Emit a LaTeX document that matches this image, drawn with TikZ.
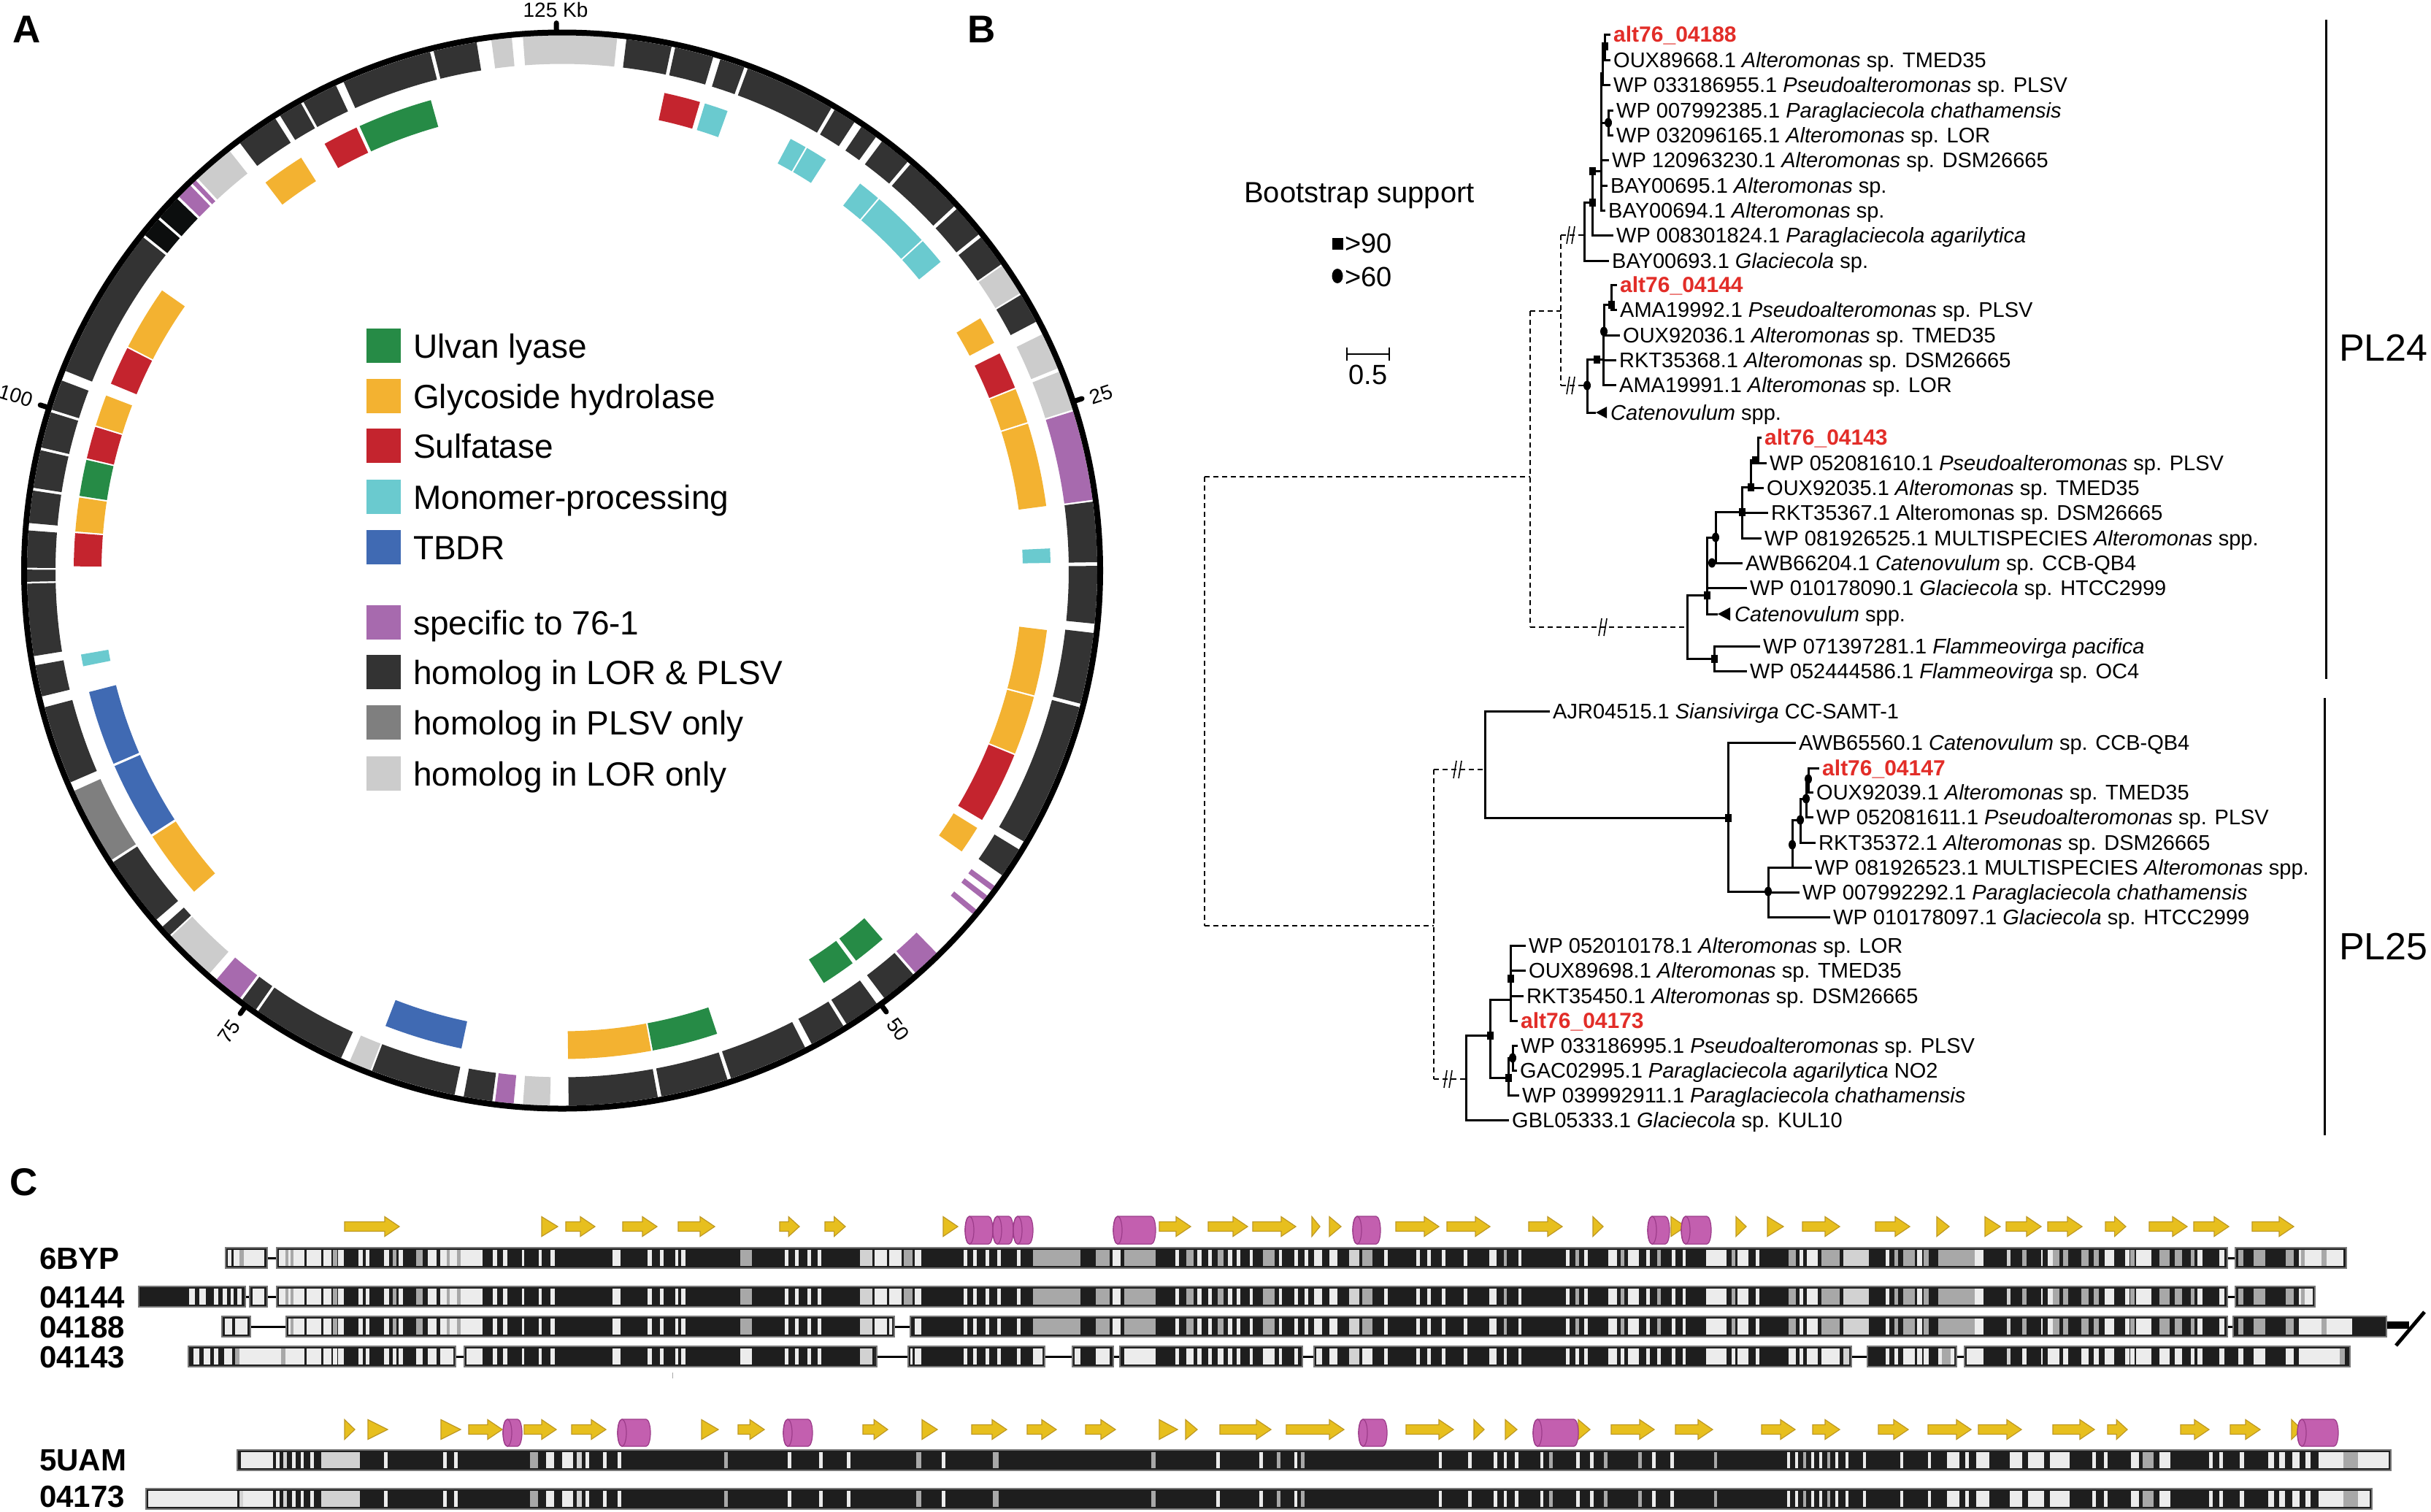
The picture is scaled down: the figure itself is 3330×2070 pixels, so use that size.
\documentclass[tikz,border=0pt]{standalone}
\usepackage{fontspec}
\setmainfont{Liberation Sans}
\definecolor{cgreen}{RGB}{38,139,70}
\definecolor{corange}{RGB}{243,178,49}
\definecolor{cred}{RGB}{196,36,46}
\definecolor{ccyan}{RGB}{106,202,207}
\definecolor{cblue}{RGB}{64,106,179}
\definecolor{cpurple}{RGB}{167,106,174}
\definecolor{cdark}{RGB}{51,51,51}
\definecolor{cmid}{RGB}{127,127,127}
\definecolor{clight}{RGB}{204,204,204}
\definecolor{cblack}{RGB}{12,14,14}
\definecolor{tred}{RGB}{226,45,40}
\definecolor{ayel}{RGB}{231,191,30}
\definecolor{ayeld}{RGB}{190,152,35}
\definecolor{cmag}{RGB}{195,95,175}
\definecolor{cmagd}{RGB}{156,60,138}
\definecolor{barc}{RGB}{30,30,30}
\definecolor{barl}{RGB}{120,120,120}
\definecolor{stw}{RGB}{236,236,236}
\definecolor{stl}{RGB}{210,210,210}
\definecolor{stg}{RGB}{168,168,168}
\colorlet{sgx}{stg}
\newcommand\fs[1]{\fontsize{#1}{#1}\selectfont}
\newcommand\aseg[5]{\fill[#1] ({#2-90}:#4) arc[start angle={#2-90}, end angle={#3-90}, radius=#4] -- ({#3-90}:#5) arc[start angle={#3-90}, end angle={#2-90}, radius=#5] -- cycle;}
\newcommand\oseg[3]{\aseg{#1}{#2}{#3}{694}{733}}
\newcommand\iseg[3]{\aseg{#1}{#2}{#3}{631}{669}}
\newcommand\yarr[3]{\pgfmathsetmacro\ahl{min(20,0.55*(#2-#1))}%
 \filldraw[fill=ayel,draw=ayeld,line width=1.2pt] (#1,#3-6.5) -- ({#2-\ahl},#3-6.5) -- ({#2-\ahl},#3-13.5) -- (#2,#3) -- ({#2-\ahl},#3+13.5) -- ({#2-\ahl},#3+6.5) -- (#1,#3+6.5) -- cycle;}
\newcommand\ytri[3]{\filldraw[fill=ayel,draw=ayeld,line width=1.2pt] (#1,#3-13.5) -- (#2,#3) -- (#1,#3+13.5) -- cycle;}
\newcommand\cyl[4]{\pgfmathsetmacro\cym{(#3+#4)/2}\pgfmathsetmacro\cry{(#4-#3)/2}%
 \filldraw[fill=cmag,draw=cmagd,line width=1.2pt] (#1+6,#3) -- (#2-6,#3) arc[start angle=-90,end angle=90,x radius=6,y radius=\cry] -- (#1+6,#4) arc[start angle=90,end angle=270,x radius=6,y radius=\cry] -- cycle;
 \draw[cmagd,line width=1.2pt] (#1+6,\cym) ellipse[x radius=6,y radius=\cry];}
\newcommand\bseg[3]{\filldraw[fill=barc,draw=barl,line width=1.5pt] (#1,#3-14) rectangle (#2,#3+14);}
\newcommand\conn[3]{\draw[line width=3pt] (#1,#3) -- (#2,#3);}
\newcommand\bsq[2]{\fill (#1-4.5,#2-5.5) rectangle (#1+4.5,#2+5.5);}
\newcommand\bdot[2]{\fill (#1,#2) ellipse[x radius=5,y radius=6.5];}
\newcommand\brk[2]{\draw[line width=1.6pt] (#1-6,#2+12) -- (#1-2,#2-12) (#1+1,#2+12) -- (#1+5,#2-12);}
\newcommand\stripesA[1]{\foreach \sa/\sb/\sc in {382/391/stw, 391/395/sgx, 395/398/stw, 398/402/sgx, 402/417/stw, 420/440/stw, 443/454/stw, 456/462/sgx, 463/471/stw, 491/497/stw, 501/506/stw, 526/533/stw, 538/543/sgx, 546/552/stw, 570/579/sgx, 586/598/stw, 603/661/stw, 612/616/sgx, 626/631/sgx, 675/681/stw, 689/695/stw, 715/718/stw, 738/742/stw, 754/760/stw, 839/850/stw, 887/893/stw, 904/909/stw, 925/929/stw, 933/939/stw, 1014/1030/sgx, 1075/1080/stw, 1089/1094/stw, 1106/1111/stw, 1120/1125/stw, 1178/1195/stl, 1198/1215/stw, 1218/1235/stw, 1238/1250/sgx, 1253/1262/stw, 1320/1325/stw, 1333/1338/stw, 1350/1355/stw, 1366/1371/stw, 1393/1398/stw, 1415/1480/sgx, 1501/1520/sgx, 1524/1535/stw, 1540/1583/sgx, 1610/1615/stw, 1625/1635/sgx, 1640/1646/stw, 1655/1660/stw, 1668/1676/sgx, 1682/1688/stw, 1694/1699/stw, 1712/1716/stw, 1730/1746/sgx, 1752/1756/stw, 1773/1778/stw, 1787/1792/stw, 1800/1811/stw, 1821/1832/stw, 1848/1862/stl, 1866/1880/sgx, 1896/1901/stw, 1940/1945/stw, 1955/1960/stw, 1975/1980/stw, 2005/2010/stw, 2040/2050/stw, 2060/2064/sgx, 2080/2084/stw, 2145/2150/stw, 2158/2163/sgx, 2170/2175/stw, 2203/2215/stw, 2220/2225/sgx, 2230/2245/stw, 2255/2260/stw, 2270/2275/sgx, 2290/2295/stw, 2305/2309/stw, 2337/2365/stw, 2372/2377/sgx, 2380/2395/stw, 2405/2410/stw, 2450/2460/sgx, 2465/2470/stw, 2475/2490/stw, 2495/2520/sgx, 2525/2560/stl, 2583/2588/stw, 2595/2600/sgx, 2607/2623/sgx, 2626/2633/stw, 2635/2642/sgx, 2655/2705/sgx, 2705/2717/stw, 2749/2754/stl, 2770/2776/sgx, 2796/2798/stw, 2805/2812/stw, 2812/2821/sgx, 2826/2833/sgx, 2851/2861/sgx, 2868/2875/sgx, 2883/2896/stw, 2911/2917/stw, 2918/2924/sgx, 2926/2947/stw, 2958/2972/sgx, 2979/2989/sgx, 3001/3006/sgx, 3010/3017/stw, 3040/3047/stw, 3066/3073/sgx, 3087/3103/sgx, 3131/3142/sgx, 3149/3210/stw, 3152/3157/sgx, 3180/3187/sgx}{\fill[\sc] (\sa,#1-11) rectangle (\sb,#1+11);}}
\newcommand\stripesB[1]{\foreach \sa/\sb/\sc in {330/374/stw, 378/383/stw, 388/393/stl, 400/405/stw, 412/416/stw, 425/430/stw, 440/493/stl, 526/531/stw, 607/612/stw, 622/627/stw, 726/737/stg, 748/759/stw, 770/785/stw, 790/797/stl, 802/807/stw, 826/831/stw, 846/851/stw, 992/997/stg, 1079/1084/stw, 1122/1127/stw, 1160/1165/stw, 1255/1262/stg, 1290/1295/stw, 1360/1368/stg, 1577/1583/stg, 1666/1671/stw, 1725/1730/stw, 1749/1754/stg, 1773/1777/stw, 1782/1787/stg, 1971/1975/stw, 2011/2016/stw, 2046/2051/stw, 2060/2064/stw, 2075/2080/stw, 2110/2114/stw, 2122/2127/stg, 2159/2164/stw, 2178/2183/stw, 2197/2202/stg, 2244/2249/stg, 2263/2268/stw, 2288/2293/stw, 2348/2352/stg, 2448/2452/stw, 2459/2463/stw, 2470/2474/stg, 2481/2485/stw, 2492/2496/stw, 2503/2507/stg, 2514/2518/stw, 2528/2532/stw, 2552/2556/stw, 2603/2607/stw, 2641/2645/stw, 2667/2684/stw, 2692/2697/stw, 2707/2725/stw, 2753/2770/stw, 2778/2800/stw, 2808/2835/stw, 2866/2871/stw, 2882/2887/stw, 2919/2930/stw, 2935/2950/stg, 2958/2973/stw, 3026/3031/stw, 3040/3045/stw, 3068/3074/stw, 3107/3115/stw, 3122/3130/stw, 3140/3150/stw, 3158/3165/stw, 3176/3210/stw, 3210/3230/stg, 3230/3273/stw}{\fill[\sc] (\sa,#1-11) rectangle (\sb,#1+11);}}
\begin{document}
\begin{tikzpicture}[x=1pt,y=-1pt,
 lf/.style={anchor=west,inner xsep=4pt,inner ysep=0pt,font=\fs{29},text height=21pt,text depth=0pt},
 rl/.style={lf,font=\fs{30}\bfseries,text=tred},
 br/.style={line width=3pt},
 dsh/.style={line width=1.8pt,dash pattern=on 7pt off 5pt},
 leg/.style={anchor=west,inner sep=0pt,font=\fs{46},text height=33pt,text depth=0pt},
 clab/.style={anchor=west,inner sep=0pt,font=\fs{42}\bfseries,text height=30pt,text depth=0pt},
 plab/.style={anchor=base west,inner sep=0pt,font=\fs{53}\bfseries},
 tk/.style={inner sep=0pt,font=\fs{28}}]
\useasboundingbox (0,0) rectangle (3330,2070);
\fill[white] (0,0) rectangle (3330,2070);
% ---------------- panel labels
\node[plab] (pA) at (17,58) {A};
\node[plab] (pB) at (1325,58) {B};
\node[plab] (pC) at (13,1637) {C};
% ---------------- panel A
\begin{scope}[shift={(770,781.5)}]
\oseg{clight}{-4.2}{5.9}
\oseg{cdark}{6.9}{11.8}\oseg{cdark}{12.2}{16.4}\oseg{cdark}{17.2}{19.9}\oseg{cdark}{20.3}{30.2}
\oseg{cdark}{30.6}{33.1}\oseg{cdark}{34.0}{35.9}\oseg{cdark}{36.7}{40.2}\oseg{cdark}{40.6}{47.1}
\oseg{cdark}{47.5}{51.1}\oseg{cdark}{51.5}{55.1}\oseg{clight}{55.3}{58.8}\oseg{cdark}{59.0}{62.3}
\oseg{clight}{63.8}{67.8}\oseg{clight}{68.2}{72.5}\oseg{cpurple}{72.7}{82.4}\oseg{cdark}{82.6}{89.1}
\oseg{cdark}{89.5}{95.7}\oseg{cdark}{96.7}{104.4}\oseg{cdark}{104.8}{120.4}\oseg{cdark}{121.4}{124.7}
\oseg{cpurple}{126.1}{126.7}\oseg{cpurple}{127.4}{128.0}\oseg{cpurple}{129.3}{129.9}
\oseg{cpurple}{135.6}{138.7}\oseg{cdark}{139.0}{143.0}\oseg{cdark}{144.0}{147.9}\oseg{cdark}{148.3}{152.2}
\oseg{cdark}{153.0}{161.6}\oseg{cdark}{162.0}{169.3}\oseg{cdark}{169.7}{179.3}\oseg{clight}{181.3}{184.2}
\oseg{cpurple}{185.2}{187.2}\oseg{cdark}{187.5}{190.6}\oseg{cdark}{191.6}{200.8}\oseg{clight}{201.0}{203.4}
\oseg{cdark}{204.4}{214.6}\oseg{cdark}{214.9}{216.7}\oseg{cpurple}{217.0}{220.2}\oseg{clight}{221.2}{226.9}
\oseg{cdark}{227.1}{228.3}\oseg{cdark}{229.3}{237.0}\oseg{cmid}{237.3}{245.7}\oseg{cdark}{246.7}{255.2}
\oseg{cdark}{256.4}{259.8}\oseg{cdark}{260.8}{268.6}\oseg{cdark}{268.8}{270.1}\oseg{cdark}{270.3}{274.3}
\oseg{cdark}{275.1}{278.6}\oseg{cdark}{278.9}{283.0}\oseg{cdark}{283.3}{287.2}\oseg{cdark}{287.5}{290.8}
\oseg{cdark}{291.9}{308.5}\oseg{cblack}{308.8}{311.0}\oseg{cblack}{311.3}{314.0}
\oseg{cpurple}{314.3}{316.0}\oseg{cpurple}{316.3}{316.8}\oseg{clight}{317.1}{321.6}
\oseg{cdark}{323.0}{327.6}\oseg{cdark}{328.2}{330.8}\oseg{cdark}{331.1}{335.0}\oseg{cdark}{335.9}{345.7}
\oseg{cdark}{346.1}{350.8}\oseg{clight}{352.4}{354.6}
% inner track
\iseg{cred}{12.1}{16.4}\iseg{ccyan}{17.0}{19.8}\iseg{ccyan}{27.9}{29.9}\iseg{ccyan}{30.1}{32.7}
\iseg{ccyan}{37.6}{40.3}\iseg{ccyan}{40.5}{47.4}\iseg{ccyan}{47.6}{50.8}
\iseg{corange}{58.9}{62.2}\iseg{cred}{63.6}{68.0}\iseg{corange}{68.2}{72.3}\iseg{corange}{72.5}{82.4}
\iseg{ccyan}{87.4}{89.1}\iseg{corange}{97.0}{104.8}\iseg{corange}{105.0}{112.0}\iseg{cred}{112.2}{120.7}
\iseg{corange}{121.8}{125.1}\iseg{cgreen}{139.0}{143.0}\iseg{cgreen}{143.5}{147.6}
\iseg{cgreen}{161.5}{169.3}\iseg{corange}{169.5}{179.3}\iseg{cblue}{191.9}{201.2}
\iseg{corange}{228.9}{237.0}\iseg{cblue}{237.3}{246.4}\iseg{cblue}{246.7}{255.6}\iseg{ccyan}{258.7}{260.1}
\iseg{cred}{270.5}{274.4}\iseg{corange}{274.6}{278.6}\iseg{cgreen}{278.8}{283.1}\iseg{cred}{283.3}{287.1}
\iseg{corange}{287.3}{291.0}\iseg{cred}{292.5}{297.1}\iseg{corange}{297.3}{305.0}
\iseg{corange}{322.6}{327.7}\iseg{cred}{330.9}{335.1}\iseg{cgreen}{335.5}{344.4}
\draw[line width=8pt] (0,0) circle[radius=737];
\foreach \t in {359.4,71.7,143.7,216.0,287.6}{\draw[line width=7pt,line cap=round] ({\t-90}:738) -- ({\t-90}:750);}
\end{scope}
\node[tk] (kb) at (761,13) {125 Kb};
\node[tk,rotate=18.3] (k25) at (1508,540) {25};
\node[tk,rotate=-53.7] (k50) at (1230,1410) {50};
\node[tk,rotate=54] (k75) at (314,1413) {75};
\node[tk,rotate=-17.6] (k100) at (22,542) {100};
% legend
\fill[cgreen] (501.5,450) rectangle (548.5,497);
\fill[corange] (501.5,519) rectangle (548.5,566);
\fill[cred] (501.5,587) rectangle (548.5,634);
\fill[ccyan] (501.5,657) rectangle (548.5,704);
\fill[cblue] (501.5,726) rectangle (548.5,773);
\fill[cpurple] (501.5,829) rectangle (548.5,876);
\fill[cdark] (501.5,897) rectangle (548.5,944);
\fill[cmid] (501.5,966) rectangle (548.5,1013);
\fill[clight] (501.5,1036) rectangle (548.5,1083);
\node[leg] (g1) at (566,473.5) {Ulvan lyase};
\node[leg] (g2) at (566,542.5) {Glycoside hydrolase};
\node[leg] (g3) at (566,610.5) {Sulfatase};
\node[leg] (g4) at (566,680.5) {Monomer-processing};
\node[leg] (g5) at (566,749.5) {TBDR};
\node[leg] (g6) at (566,852.5) {specific to 76-1};
\node[leg] (g7) at (566,920.5) {homolog in LOR \& PLSV};
\node[leg] (g8) at (566,989.5) {homolog in PLSV only};
\node[leg] (g9) at (566,1059.5) {homolog in LOR only};
% ---------------- panel B legend
\node[anchor=west,inner sep=0pt,font=\fs{40}] (bs) at (1704,268) {Bootstrap support};
\fill (1825,326) rectangle (1840,342);
\node[anchor=west,inner sep=0pt,font=\fs{38}] (g90) at (1842,333) {>90};
\fill (1832,378) ellipse[x radius=7.5,y radius=10];
\node[anchor=west,inner sep=0pt,font=\fs{38}] (g60) at (1842,379) {>60};
\draw[line width=2pt] (1845,485) -- (1903,485) (1845,476) -- (1845,494) (1903,476) -- (1903,494);
\node[inner sep=0pt,font=\fs{38}] (sc) at (1874,513) {0.5};
% PL brackets
\draw[line width=3pt] (3186,27) -- (3186,930);
\draw[line width=3pt] (3184,956) -- (3184,1555);
\node[anchor=west,inner sep=0pt,font=\fs{52}] (pl24) at (3204,476) {PL24};
\node[anchor=west,inner sep=0pt,font=\fs{52}] (pl25) at (3204,1297) {PL25};
% ---------------- tree clade 1
\node[rl] (a1) at (2206,47) {alt76\_04188};
\node[lf] (a2) at (2206,82) {OUX89668.1 \textit{Alteromonas} sp. TMED35};
\node[lf] (a3) at (2206,116) {WP 033186955.1 \textit{Pseudoalteromonas} sp. PLSV};
\node[lf] (a4) at (2210,151) {WP 007992385.1 \textit{Paraglaciecola chathamensis}};
\node[lf] (a5) at (2210,185) {WP 032096165.1 \textit{Alteromonas} sp. LOR};
\node[lf] (a6) at (2204,219) {WP 120963230.1 \textit{Alteromonas} sp. DSM26665};
\node[lf] (a7) at (2202,254) {BAY00695.1 \textit{Alteromonas} sp.};
\node[lf] (a8) at (2199,288) {BAY00694.1 \textit{Alteromonas} sp.};
\node[lf] (a9) at (2210,322) {WP 008301824.1 \textit{Paraglaciecola agarilytica}};
\node[lf] (a10) at (2204,357) {BAY00693.1 \textit{Glaciecola} sp.};
\coordinate (n1) at (2198,65);
\coordinate (n2) at (2195,100);
\coordinate (n3) at (2203,168);
\coordinate (n5) at (2193,234);
\coordinate (n6) at (2181,277);
\coordinate (n7) at (2170,322);
\draw[br] (n1)|-(a1.west) (n1)|-(a2.west) (n2)|-(n1) (n2)|-(a3.west) (n3)|-(a4.west) (n3)|-(a5.west)
 (n5)|-(n2) (n5)|-(n3) (n5)|-(a6.west) (n5)|-(a7.west) (n5)|-(a8.west) (n6)|-(n5) (n6)|-(a9.west)
 (n7)|-(n6) (n7)|-(a10.west);
\bsq{2198}{63}\bsq{2181}{234}\bsq{2181}{277}\bdot{2203}{168}
% clade 2
\node[rl] (b1) at (2215,390) {alt76\_04144};
\node[lf] (b2) at (2215,424) {AMA19992.1 \textit{Pseudoalteromonas} sp. PLSV};
\node[lf] (b3) at (2219,459) {OUX92036.1 \textit{Alteromonas} sp. TMED35};
\node[lf] (b4) at (2214,493) {RKT35368.1 \textit{Alteromonas} sp. DSM26665};
\node[lf] (b5) at (2214,527) {AMA19991.1 \textit{Alteromonas} sp. LOR};
\node[lf] (b6) at (2202,565) {\textit{Catenovulum} spp.};
\coordinate (t6) at (2186,565);
\fill (2186,565) -- (2201,557) -- (2201,573) -- cycle;
\coordinate (p1) at (2207,417);
\coordinate (p2) at (2197,454);
\coordinate (p3) at (2196,492);
\coordinate (p4) at (2174,528);
\draw[br] (p1)|-(b1.west) (p1)|-(b2.west) (p2)|-(p1) (p2)|-(b3.west) (p3)|-(p2) (p3)|-(b4.west) (p3)|-(b5.west)
 (p4)|-(p3) (p4)|-(t6);
\bsq{2207}{417}\bdot{2197}{454}\bsq{2187}{492}\bdot{2174}{528}
% clade 3
\node[rl] (c1) at (2413,599) {alt76\_04143};
\node[lf] (c2) at (2420,634) {WP 052081610.1 \textit{Pseudoalteromonas} sp. PLSV};
\node[lf] (c3) at (2416,668) {OUX92035.1 \textit{Alteromonas} sp. TMED35};
\node[lf] (c4) at (2422,702) {RKT35367.1 Alteromonas sp. DSM26665};
\node[lf] (c5) at (2413,737) {WP 081926525.1 MULTISPECIES \textit{Alteromonas} spp.};
\node[lf] (c6) at (2387,771) {AWB66204.1 \textit{Catenovulum} sp. CCB-QB4};
\node[lf] (c7) at (2393,805) {WP 010178090.1 \textit{Glaciecola} sp. HTCC2999};
\node[lf] (c8) at (2372,841) {\textit{Catenovulum} spp.};
\coordinate (t8) at (2353,841);
\fill (2353,841) -- (2370,832) -- (2370,850) -- cycle;
\node[lf] (c9) at (2411,885) {WP 071397281.1 \textit{Flammeovirga pacifica}};
\node[lf] (c10) at (2393,919) {WP 052444586.1 \textit{Flammeovirga} sp. OC4};
\coordinate (r1) at (2408,630);
\coordinate (r2) at (2398,667);
\coordinate (r3) at (2386,701);
\coordinate (r4) at (2350,736);
\coordinate (r5) at (2338,815);
\coordinate (r6) at (2311,859);
\coordinate (rf) at (2348,902);
\draw[br] (r1)|-(c1.west) (r1)|-(c2.west) (r2)|-(r1) (r2)|-(c3.west) (r3)|-(r2) (r3)|-(c4.west) (r3)|-(c5.west)
 (r4)|-(r3) (r4)|-(c6.west) (r5)|-(r4) (r5)|-(c7.west) (r5)|-(t8) (r6)|-(r5) (r6)|-(rf) (rf)|-(c9.west) (rf)|-(c10.west);
\bsq{2404}{630}\bsq{2398}{667}\bsq{2386}{701}\bdot{2350}{736}\bdot{2345}{771}\bsq{2338}{815}\bsq{2348}{902}
% PL25 upper
\node[lf] (e1) at (2123,974) {AJR04515.1 \textit{Siansivirga} CC-SAMT-1};
\node[lf] (e2) at (2460,1017) {AWB65560.1 \textit{Catenovulum} sp. CCB-QB4};
\node[rl] (e3) at (2492,1052) {alt76\_04147};
\node[lf] (e4) at (2484,1085) {OUX92039.1 \textit{Alteromonas} sp. TMED35};
\node[lf] (e5) at (2484,1119) {WP 052081611.1 \textit{Pseudoalteromonas} sp. PLSV};
\node[lf] (e6) at (2487,1154) {RKT35372.1 \textit{Alteromonas} sp. DSM26665};
\node[lf] (e7) at (2482,1188) {WP 081926523.1 MULTISPECIES \textit{Alteromonas} spp.};
\node[lf] (e8) at (2465,1222) {WP 007992292.1 \textit{Paraglaciecola chathamensis}};
\node[lf] (e9) at (2507,1256) {WP 010178097.1 \textit{Glaciecola} sp. HTCC2999};
\coordinate (s0) at (2034,1054);
\coordinate (s1) at (2367,1120);
\coordinate (s2) at (2477,1067);
\coordinate (s3) at (2474,1094);
\coordinate (s4) at (2466,1123);
\coordinate (s5) at (2455,1188);
\coordinate (s6) at (2422,1221);
\draw[br] (s0)|-(e1.west) (s0)|-(s1) (s1)|-(e2.west) (s1)|-(s6) (s6)|-(s5) (s6)|-(e8.west) (s6)|-(e9.west)
 (s5)|-(s4) (s5)|-(e7.west) (s4)|-(s3) (s4)|-(e6.west) (s3)|-(s2) (s3)|-(e5.west) (s2)|-(e3.west) (s2)|-(e4.west);
\bsq{2367}{1120}\bdot{2477}{1067}\bdot{2474}{1094}\bdot{2466}{1123}\bdot{2455}{1157}\bdot{2422}{1221}
% PL25 lower
\node[lf] (f1) at (2090,1295) {WP 052010178.1 \textit{Alteromonas} sp. LOR};
\node[lf] (f2) at (2090,1329) {OUX89698.1 \textit{Alteromonas} sp. TMED35};
\node[lf] (f3) at (2087,1364) {RKT35450.1 \textit{Alteromonas} sp. DSM26665};
\node[rl] (f4) at (2079,1398) {alt76\_04173};
\node[lf] (f5) at (2079,1432) {WP 033186995.1 \textit{Pseudoalteromonas} sp. PLSV};
\node[lf] (f6) at (2078,1466) {GAC02995.1 \textit{Paraglaciecola agarilytica} NO2};
\node[lf] (f7) at (2081,1500) {WP 039992911.1 \textit{Paraglaciecola chathamensis}};
\node[lf] (f8) at (2067,1534) {GBL05333.1 \textit{Glaciecola} sp. KUL10};
\coordinate (w1) at (2069,1369);
\coordinate (w2) at (2072,1449);
\coordinate (w2b) at (2066,1476);
\coordinate (w3) at (2041,1418);
\coordinate (w4) at (2008,1478);
\draw[br] (w1)|-(f1.west) (w1)|-(f2.west) (w1)|-(f3.west) (w1)|-(f4.west) (w2)|-(f5.west) (w2)|-(f6.west)
 (w2b)|-(w2) (w2b)|-(f7.west) (w3)|-(w1) (w3)|-(w2b) (w4)|-(w3) (w4)|-(f8.west);
\bsq{2069}{1340}\bdot{2072}{1449}\bsq{2066}{1476}\bsq{2041}{1418}
% dashed root
\coordinate (q1) at (2138,322); \coordinate (q2) at (2138,528); \coordinate (q3) at (2138,426);
\coordinate (q4) at (2096,426); \coordinate (q5) at (2096,653); \coordinate (q6) at (2096,859);
\coordinate (q7) at (1650,653); \coordinate (q8) at (1650,1268); \coordinate (q9) at (1964,1268);
\coordinate (q10) at (1964,1054); \coordinate (q11) at (1964,1478);
\draw[dsh] (q1) -- (n7) (q2) -- (p4) (q1) -- (q2) (q4) -- (q3) (q4) -- (q6) (q6) -- (r6)
 (q7) -- (q5) (q7) -- (q8) (q8) -- (q9) (q10) -- (q11) (q10) -- (s0) (q11) -- (w4);
\brk{2152}{322}\brk{2152}{528}\brk{2196}{859}\brk{1997}{1054}\brk{1984}{1478}
% ---------------- panel C
\node[clab] (l1) at (54,1723) {6BYP};
\node[clab] (l2) at (54,1776) {04144};
\node[clab] (l3) at (54,1817) {04188};
\node[clab] (l4) at (54,1858) {04143};
\node[clab] (l5) at (54,1999) {5UAM};
\node[clab] (l6) at (54,2049) {04173};
% 6BYP
\conn{366}{379}{1723}\conn{3051}{3062}{1723}
\bseg{309}{366}{1723}\bseg{379}{3051}{1723}\bseg{3062}{3214}{1723}
\begin{scope}\clip (312,1700) rectangle (363,1746) (382,1700) rectangle (3048,1746) (3065,1700) rectangle (3211,1746);
\stripesA{1723}
\foreach \sa/\sb/\sc in {312/317/stw,320/328/stw,328/334/stg,334/362/stw}{\fill[\sc] (\sa,1712) rectangle (\sb,1734);}
\end{scope}
% 04144
\conn{336}{342}{1776}\conn{366}{379}{1776}\conn{3051}{3062}{1776}
\bseg{190}{336}{1776}\bseg{342}{366}{1776}\bseg{379}{3051}{1776}\bseg{3062}{3171}{1776}
\begin{scope}\clip (193,1750) rectangle (333,1800) (345,1750) rectangle (363,1800) (382,1750) rectangle (3048,1800) (3065,1750) rectangle (3168,1800);
\stripesA{1776}
\foreach \sa/\sb/\sc in {259/267/stw,273/282/stw,293/299/stw,305/311/stw,316/320/stw,325/331/stw,346/362/stw}{\fill[\sc] (\sa,1765) rectangle (\sb,1787);}
\end{scope}
% 04188
\conn{343}{392}{1817}\conn{1225}{1247}{1817}\conn{3051}{3059}{1817}
\fill (3255,1810) rectangle (3300,1820);
\bseg{304}{343}{1817}\bseg{392}{1225}{1817}\bseg{1247}{3051}{1817}\bseg{3059}{3269}{1817}
\begin{scope}\clip (307,1790) rectangle (340,1845) (395,1790) rectangle (1222,1845) (1250,1790) rectangle (3048,1845) (3062,1790) rectangle (3266,1845);
\stripesA{1817}
\foreach \sa/\sb/\sc in {308/318/stw,322/339/stw,3152/3222/stw,3180/3187/stg}{\fill[\sc] (\sa,1806) rectangle (\sb,1828);}
\end{scope}
\draw[line width=5pt] (3282,1843) -- (3321,1797);
% 04143
\conn{624}{636}{1858}\conn{1201}{1244}{1858}\conn{1431}{1469}{1858}\conn{1525}{1534}{1858}\conn{1784}{1800}{1858}\conn{2536}{2558}{1858}\conn{2680}{2691}{1858}
\bseg{258}{624}{1858}\bseg{636}{1201}{1858}\bseg{1244}{1431}{1858}\bseg{1469}{1525}{1858}\bseg{1534}{1784}{1858}\bseg{1800}{2536}{1858}\bseg{2558}{2680}{1858}\bseg{2691}{3219}{1858}
\begin{scope}\colorlet{sgx}{stw}
\clip (261,1830) rectangle (621,1886) (639,1830) rectangle (1198,1886) (1247,1830) rectangle (1428,1886) (1472,1830) rectangle (1522,1886) (1537,1830) rectangle (1781,1886) (1803,1830) rectangle (2533,1886) (2561,1830) rectangle (2677,1886) (2694,1830) rectangle (3216,1886);
\stripesA{1858}
\foreach \sa/\sb/\sc in {265/273/stw,279/288/stw,293/299/stw,307/318/stw,322/328/stg,328/385/stw,385/391/stg,3152/3212/stw,3205/3212/stg,2660/2672/stg}{\fill[\sc] (\sa,1847) rectangle (\sb,1869);}
\end{scope}
\draw[stg,line width=1pt] (921,1880) -- (921,1888);
% 5UAM
\bseg{325}{3275}{2000}
\begin{scope}\clip (328,1980) rectangle (3272,2020); \stripesB{2000} \end{scope}
% 04173
\bseg{200}{3249}{2053}
\begin{scope}\clip (203,2030) rectangle (3246,2076); \stripesB{2053}
\foreach \sa/\sb/\sc in {203/325/stw,328/333/stl}{\fill[\sc] (\sa,2042) rectangle (\sb,2064);}
\end{scope}
% row 1 secondary structure
\yarr{472}{547}{1680}\ytri{742}{764}{1680}\yarr{775}{815}{1680}\yarr{853}{900}{1680}\yarr{929}{979}{1680}
\yarr{1068}{1095}{1680}\yarr{1130}{1158}{1680}\ytri{1292}{1312}{1680}
\cyl{1322}{1360}{1666}{1704}\cyl{1360}{1388}{1666}{1704}\cyl{1388}{1415}{1666}{1704}\cyl{1525}{1583}{1666}{1704}
\yarr{1588}{1631}{1680}\yarr{1655}{1709}{1680}\yarr{1716}{1775}{1680}\ytri{1797}{1808}{1680}\ytri{1821}{1837}{1680}
\cyl{1853}{1891}{1666}{1704}\yarr{1912}{1971}{1680}\yarr{1982}{2041}{1680}\yarr{2094}{2140}{1680}\ytri{2182}{2196}{1680}
\cyl{2257}{2287}{1666}{1704}\ytri{2289}{2309}{1680}\cyl{2303}{2344}{1666}{1704}\ytri{2378}{2392}{1680}\ytri{2421}{2443}{1680}
\yarr{2469}{2520}{1680}\yarr{2569}{2616}{1680}\ytri{2653}{2670}{1680}\ytri{2719}{2740}{1680}\yarr{2748}{2796}{1680}
\yarr{2805}{2852}{1680}\yarr{2884}{2912}{1680}\yarr{2944}{2996}{1680}\yarr{3005}{3053}{1680}\yarr{3085}{3142}{1680}
% row 2
\ytri{472}{486}{1958}\ytri{504}{531}{1958}\ytri{604}{631}{1958}\yarr{642}{688}{1958}\cyl{689}{715}{1944}{1981}
\yarr{718}{762}{1958}\yarr{783}{830}{1958}\cyl{846}{891}{1944}{1981}\ytri{961}{984}{1958}\yarr{1011}{1047}{1958}
\cyl{1073}{1113}{1944}{1981}\yarr{1182}{1216}{1958}\ytri{1263}{1284}{1958}\yarr{1331}{1379}{1958}\yarr{1407}{1447}{1958}
\yarr{1487}{1528}{1958}\ytri{1588}{1613}{1958}\ytri{1624}{1640}{1958}\yarr{1671}{1741}{1958}\yarr{1762}{1841}{1958}
\cyl{1861}{1900}{1944}{1981}\yarr{1926}{1991}{1958}\ytri{2019}{2033}{1958}\ytri{2062}{2078}{1958}\ytri{2162}{2178}{1958}
\cyl{2100}{2162}{1944}{1981}\yarr{2207}{2266}{1958}\yarr{2295}{2346}{1958}\yarr{2413}{2459}{1958}\yarr{2483}{2520}{1958}
\yarr{2573}{2614}{1958}\yarr{2641}{2700}{1958}\yarr{2710}{2769}{1958}\yarr{2812}{2869}{1958}\yarr{2887}{2914}{1958}
\yarr{2987}{3026}{1958}\yarr{3055}{3096}{1958}\ytri{3139}{3153}{1958}\cyl{3147}{3203}{1944}{1981}
\end{tikzpicture}
\end{document}
